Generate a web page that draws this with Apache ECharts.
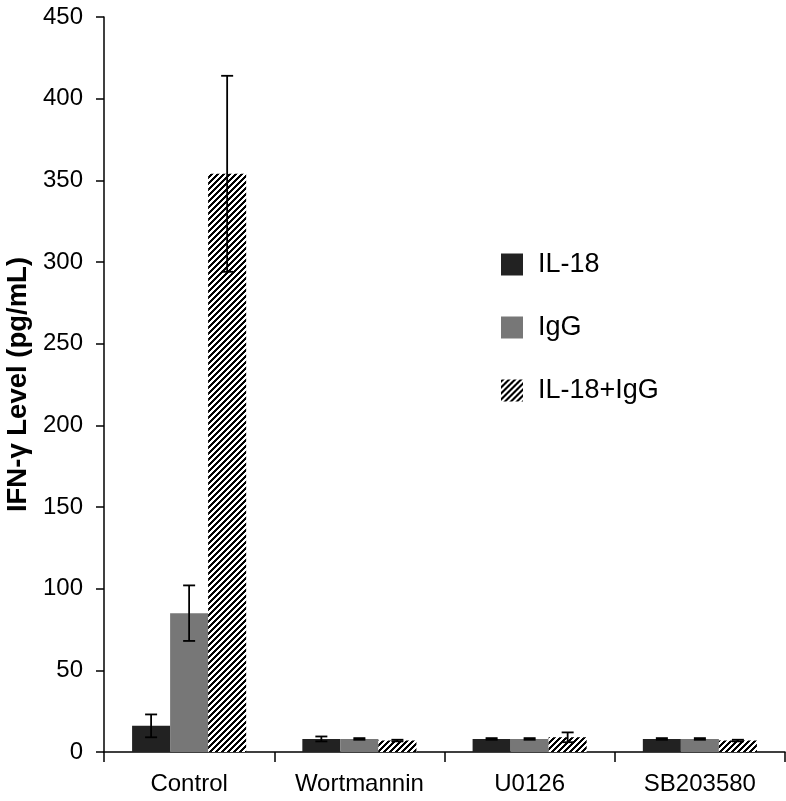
<!DOCTYPE html>
<html>
<head>
<meta charset="utf-8">
<script src="https://cdn.jsdelivr.net/npm/echarts@6/dist/echarts.min.js"></script>
<style>
  html, body { margin: 0; padding: 0; background: #fff; }
  #main { width: 786px; height: 801px; }
</style>
</head>
<body>
<div id="main"></div>
<script>
// categories and values
var categories = ['Control', 'Wortmannin', 'U0126', 'SB203580'];
var seriesNames = ['IL-18', 'IgG', 'IL-18+IgG'];
var il18 = [16, 8, 8, 8];
var igg = [85, 8, 8, 8];
var il18Igg = [354, 7, 9, 7];
var il18Err = [7, 1.5, 0.5, 0.5];
var iggErr = [17, 0.5, 0.5, 0.5];
var il18IggErr = [60, 0.5, 3, 0.5];
var yTicks = [0, 50, 100, 150, 200, 250, 300, 350, 400, 450];

var font = 'Liberation Sans, Arial, sans-serif';
var catGap = 0.33;

// diagonal black/white stripes for the IL-18+IgG bars
function stripeCanvas() {
  var p = 6;
  var c = document.createElement('canvas');
  c.width = p; c.height = p;
  var ctx = c.getContext('2d');
  var img = ctx.createImageData(p, p);
  for (var y = 0; y < p; y++) {
    for (var x = 0; x < p; x++) {
      var v = ((x + y) % p) < 3 ? 0 : 255;
      var k = (y * p + x) * 4;
      img.data[k] = v; img.data[k + 1] = v; img.data[k + 2] = v; img.data[k + 3] = 255;
    }
  }
  ctx.putImageData(img, 0, 0);
  return c;
}
var stripes = { image: stripeCanvas(), repeat: 'repeat' };

var values = [il18, igg, il18Igg];
var errors = [il18Err, iggErr, il18IggErr];
var colors = ['#222222', '#777777', stripes];

function errSeries(idx) {
  var data = values[idx].map(function (v, i) {
    return [i, v - errors[idx][i], v + errors[idx][i]];
  });
  return {
    type: 'custom',
    name: seriesNames[idx] + ' err',
    z: 5,
    silent: true,
    data: data,
    encode: { x: 0, y: [1, 2] },
    renderItem: function (params, api) {
      var catW = api.size([1, 0])[0];
      var barW = catW * (1 - catGap) / 3;
      var off = (idx - 1) * barW;
      var lo = api.coord([api.value(0), api.value(1)]);
      var hi = api.coord([api.value(0), api.value(2)]);
      var x = lo[0] + off;
      var cap = 6;
      var st = { stroke: '#000', lineWidth: 1.8 };
      return {
        type: 'group',
        children: [
          { type: 'line', shape: { x1: x, y1: lo[1], x2: x, y2: hi[1] }, style: st },
          { type: 'line', shape: { x1: x - cap, y1: hi[1], x2: x + cap, y2: hi[1] }, style: st },
          { type: 'line', shape: { x1: x - cap, y1: lo[1], x2: x + cap, y2: lo[1] }, style: st }
        ]
      };
    }
  };
}

var series = [];
for (var s = 0; s < 3; s++) {
  series.push({
    name: seriesNames[s],
    type: 'bar',
    data: values[s],
    barGap: '0%',
    barCategoryGap: (catGap * 100) + '%',
    itemStyle: { color: colors[s] }
  });
}
for (var e = 0; e < 3; e++) series.push(errSeries(e));

var myChart = echarts.init(document.getElementById('main'), null, { renderer: 'canvas' });
var option = {
  animation: false,
  backgroundColor: '#fff',
  grid: { left: 104, right: 1, top: 17, bottom: 49, containLabel: false, outerBoundsMode: 'none' },
  legend: {
    data: seriesNames,
    orient: 'vertical',
    left: 496,
    top: 246,
    itemWidth: 22,
    itemHeight: 22,
    itemGap: 36,
    icon: 'rect',
    textStyle: { fontFamily: font, fontSize: 27, color: '#000', padding: [0, 0, 0, 10] }
  },
  xAxis: {
    type: 'category',
    data: categories,
    axisLine: { lineStyle: { color: '#000', width: 1.5 } },
    axisTick: { show: true, interval: 0, length: 10, alignWithLabel: false, lineStyle: { color: '#000', width: 1.5 } },
    axisLabel: { interval: 0, hideOverlap: false, fontFamily: font, fontSize: 24, color: '#000', margin: 20 }
  },
  yAxis: {
    type: 'value',
    min: yTicks[0],
    max: yTicks[yTicks.length - 1],
    interval: 50,
    name: 'IFN-γ Level (pg/mL)',
    nameLocation: 'middle',
    nameRotate: 90,
    nameGap: 71,
    nameTextStyle: { fontFamily: font, fontSize: 27.5, fontWeight: 'bold', color: '#000' },
    splitLine: { show: false },
    axisLine: { show: true, lineStyle: { color: '#000', width: 1.5 } },
    axisTick: { show: true, length: 8, lineStyle: { color: '#000', width: 1.5 } },
    axisLabel: { fontFamily: font, fontSize: 24, color: '#000', margin: 21 }
  },
  series: series
};
myChart.setOption(option);
</script>
</body>
</html>
